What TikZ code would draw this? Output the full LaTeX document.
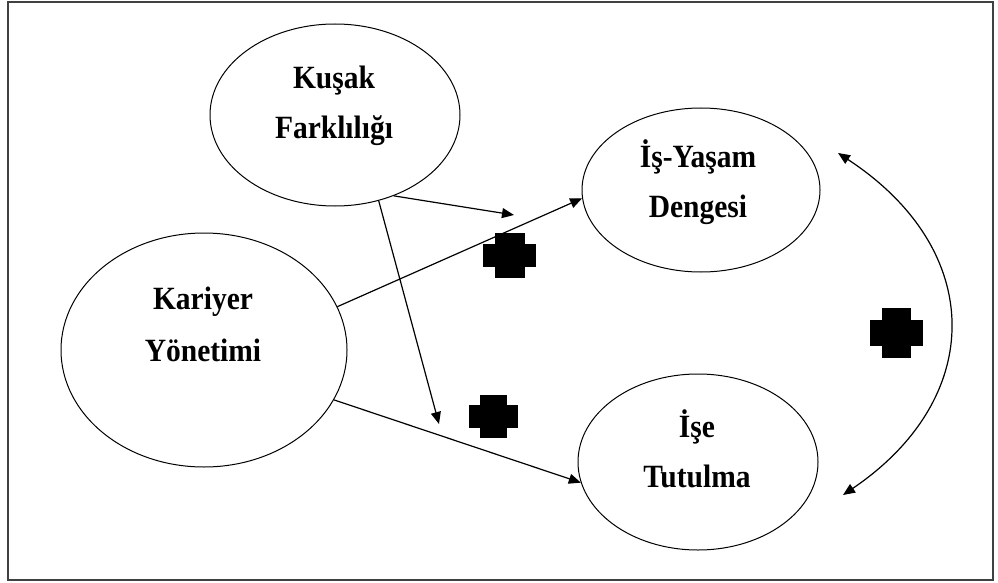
\documentclass[tikz,border=0pt]{standalone}
\usepackage{fontspec}
\setmainfont{Liberation Serif}
\usetikzlibrary{arrows.meta,shapes.geometric}

% tall bold caption text
\newcommand{\capt}[1]{\scalebox{1}[1.1]{#1}}

\tikzset{
  construct/.style={draw=black, line width=1pt, ellipse, inner sep=0pt},
  caption/.style={anchor=base, font=\bfseries\fontsize{29.5}{34}\selectfont},
  link/.style={draw=black, line width=1.2pt, -{Triangle[length=12pt,width=10pt]}},
  pics/plussign/.style n args={4}{code={%
    \fill[black] (-#1,-#2) rectangle (#1,#2);
    \fill[black] (-#3,-#4) rectangle (#3,#4);
  }}
}

\begin{document}
\begin{tikzpicture}[x=1pt, y=-1pt]
  % canvas and outer frame
  \useasboundingbox (0,0) rectangle (998,583);
  \fill[white] (0,0) rectangle (998,583);
  \draw[line width=1.6pt, black!75] (8,2) rectangle (993,580);

  % constructs
  \node[construct, minimum width=250pt, minimum height=182pt] (kusak)   at (335,115) {};
  \node[construct, minimum width=238pt, minimum height=164pt] (isyasam) at (701,190) {};
  \node[construct, minimum width=286pt, minimum height=234pt] (kariyer) at (204,350) {};
  \node[construct, minimum width=240pt, minimum height=176pt] (ise)     at (698,462) {};

  % labels
  \node[caption] (kusakA)   at (334,89)  {\capt{Kuşak}};
  \node[caption] (kusakB)   at (334,139) {\capt{Farklılığı}};
  \node[caption] (isyasamA) at (698,167) {\capt{İş-Yaşam}};
  \node[caption] (isyasamB) at (698,217) {\capt{Dengesi}};
  \node[caption] (kariyerA) at (203,309) {\capt{Kariyer}};
  \node[caption] (kariyerB) at (203,361) {\capt{Yönetimi}};
  \node[caption] (iseA)     at (697,437) {\capt{İşe}};
  \node[caption] (iseB)     at (697,487) {\capt{Tutulma}};

  % free ends of the moderating arrows and of the correlation arc
  \coordinate (modA) at (514,215);
  \coordinate (modB) at (439,424);
  \coordinate (arcTop) at (838,153);
  \coordinate (arcBot) at (843,495);

  % paths
  \draw[link] (kusak.-54) -- (modA);
  \draw[link] (kusak.-63) -- (modB);
  \draw[link] (kariyer.18) -- (isyasam.184);
  \draw[link] (kariyer.-21) -- (ise.190);
  \draw[draw=black, line width=1.2pt,
        {Triangle[length=12pt,width=10pt]}-{Triangle[length=12pt,width=10pt]}]
        (arcTop) .. controls (986,250) and (986,398) .. (arcBot);

  % positive-effect markers
  \pic at (509.5,255.5) {plussign={15}{22.5}{26.5}{11.5}};
  \pic at (493.5,416.5) {plussign={13.5}{21.5}{24.5}{11.5}};
  \pic at (896.5,333)   {plussign={14.5}{25}{26.5}{13}};
\end{tikzpicture}
\end{document}
